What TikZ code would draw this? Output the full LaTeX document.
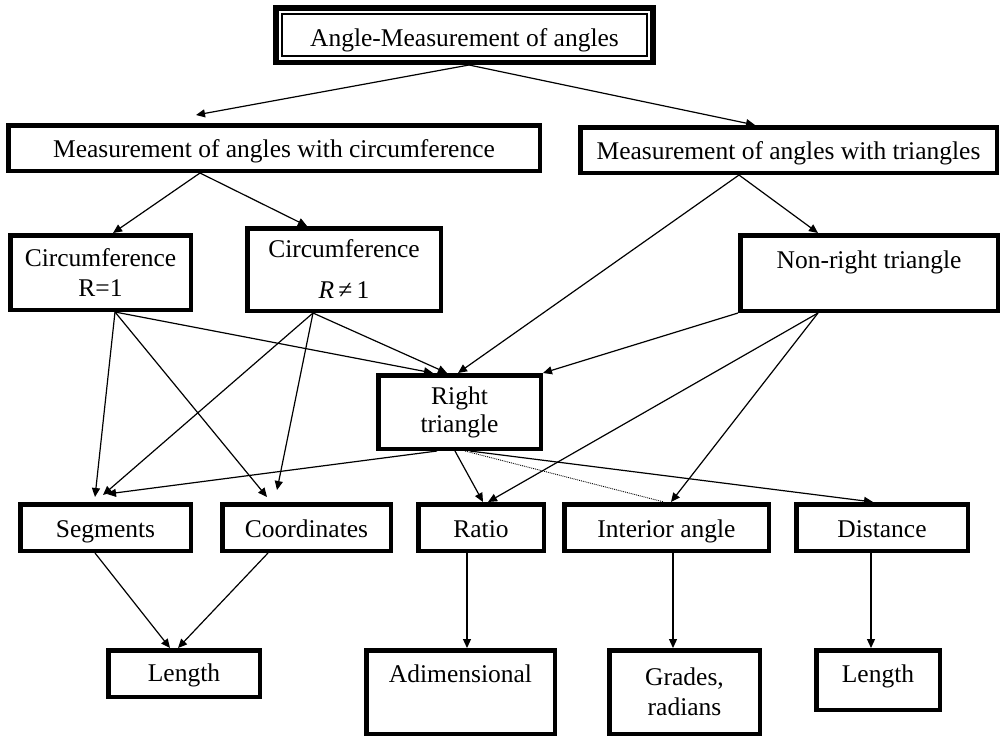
\documentclass[tikz,border=0pt]{standalone}
\usepackage{fontspec}
\setmainfont{Liberation Serif}
\usetikzlibrary{arrows.meta,calc}
\begin{document}
\begin{tikzpicture}[x=1pt,y=-1pt,
  box/.style={draw,line width=4.5pt,inner sep=0pt,align=center,font=\fontsize{25.5}{30}\selectfont},
  sl/.style={text height=#1},
  conn/.style={line width=1.2pt,-{Triangle[length=9pt,width=8pt]}},
  dotline/.style={line width=0.9pt,densely dotted}]
\useasboundingbox[fill=white] (0,0) rectangle (1003,737);

% top
\node[box,line width=5.5pt,minimum width=377,minimum height=54.5,text height=39pt,text depth=15.5pt] (top) at (464.5,35) {Angle-Measurement of angles};
\draw[line width=1.8pt] ([xshift=9pt,yshift=-9pt]top.north west) rectangle ([xshift=-9pt,yshift=9pt]top.south east);

% second row
\node[box,minimum width=531.5,minimum height=45.5,text height=25pt,text depth=7pt] (circ) at (274,148) {Measurement of angles with circumference};
\node[box,minimum width=416.5,minimum height=45.5,text height=25pt,text depth=7pt] (tri) at (788.5,150) {Measurement of angles with triangles};

% third row
\node[box,minimum width=180.5,minimum height=74.5] (r1) at (100.5,272.5) {Circumference\\R=1};
\node[box,minimum width=193.5,minimum height=82.5] (rn1) at (344,269.5) {Circumference\\[11pt]{\itshape R}\,≠\,1};
\node[box,minimum width=257.5,minimum height=75.5,text height=33pt,text depth=42.5pt] (nr) at (869,273) {Non-right triangle};

% right triangle
\node[box,minimum width=162.5,minimum height=73.5] (rt) at (459.5,412) {Right\\[-2pt]triangle};

% fourth row
\node[box,minimum width=170.5,minimum height=46.5,text height=25pt,text depth=6pt] (seg) at (105.5,527.5) {Segments};
\node[box,minimum width=168.5,minimum height=46.5,text height=25pt,text depth=6pt] (coord) at (306.5,527.5) {Coordinates};
\node[box,minimum width=125.5,minimum height=46.5,text height=25pt,text depth=6pt] (ratio) at (481,527.5) {Ratio};
\node[box,minimum width=204.5,minimum height=46.5,text height=25pt,text depth=6pt] (inter) at (666.5,527.5) {Interior angle};
\node[box,minimum width=171.5,minimum height=46.5,text height=25pt,text depth=6pt] (dist) at (882,527.5) {Distance};

% fifth row
\node[box,minimum width=151.5,minimum height=46.5,text height=31.5pt,text depth=15pt] (lenl) at (184,673.5) {Length};
\node[box,minimum width=188.5,minimum height=83.5,text height=32pt,text depth=51.5pt] (adim) at (460.5,692) {Adimensional};
\node[box,minimum width=150.5,minimum height=83.5] (grad) at (684.5,692) {Grades,\\radians};
\node[box,minimum width=123.5,minimum height=59.5,text height=32pt,text depth=27.5pt] (lenr) at (878,680) {Length};

% connectors
\draw[conn] ([xshift=4.5pt]top.south) -- ([xshift=-78pt,yshift=8pt]circ.north);
\draw[conn] ([xshift=4.5pt]top.south) -- ([xshift=-33.5pt]tri.north);

\draw[conn] ([xshift=-74pt]circ.south) -- ([xshift=12.5pt]r1.north);
\draw[conn] ([xshift=-74pt]circ.south) -- ([xshift=-37pt]rn1.north);
\draw[conn] ([xshift=-49.5pt]tri.south) -- ([xshift=-51pt]nr.north);
\draw[conn] ([xshift=-49.5pt]tri.south) -- ([xshift=-1.5pt]rt.north);

\draw[conn] ([xshift=14.5pt]r1.south) -- ([xshift=-10.5pt,yshift=5pt]seg.north);
\draw[conn] ([xshift=14.5pt]r1.south) -- ([xshift=-39.5pt,yshift=5pt]coord.north);
\draw[conn] ([xshift=14.5pt]r1.south) -- ([xshift=-26.5pt]rt.north);

\draw[conn] ([xshift=-31pt]rn1.south) -- ([xshift=-2.5pt,yshift=7pt]seg.north);
\draw[conn] ([xshift=-31pt]rn1.south) -- ([xshift=-29.5pt,yshift=12pt]coord.north);
\draw[conn] ([xshift=-31pt]rn1.south) -- ([xshift=-12.5pt]rt.north);

\draw[conn] (nr.south west) -- (rt.north east);
\draw[conn] ([xshift=-51pt]nr.south) -- ([xshift=7pt]ratio.north);
\draw[conn] ([xshift=-51pt]nr.south) -- ([xshift=4.5pt]inter.north);

\draw[conn] ([xshift=-22.5pt]rt.south) -- ([xshift=1.5pt,yshift=8pt]seg.north);
\draw[conn] ([xshift=-4.5pt]rt.south) -- ([xshift=2pt]ratio.north);
\draw[dotline] ([xshift=5.5pt]rt.south) -- ([xshift=-2.5pt]inter.north);
\draw[conn] ([xshift=10.5pt]rt.south) -- ([xshift=-9pt]dist.north);

\draw[conn] ([xshift=-10.5pt]seg.south) -- ([xshift=-14pt]lenl.north);
\draw[conn] ([xshift=-38.5pt]coord.south) -- ([xshift=-6pt]lenl.north);
\draw[conn] ([xshift=-14pt]ratio.south) -- ([xshift=6.5pt]adim.north);
\draw[conn] ([xshift=6.5pt]inter.south) -- ([xshift=-11.5pt]grad.north);
\draw[conn] ([xshift=-11pt]dist.south) -- ([xshift=-7pt]lenr.north);
\end{tikzpicture}
\end{document}
